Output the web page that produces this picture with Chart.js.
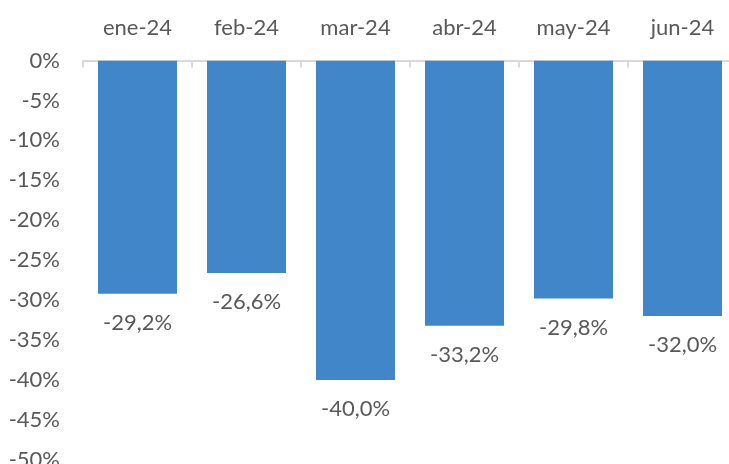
<!DOCTYPE html>
<html>
<head>
<meta charset="utf-8">
<script src="https://cdn.jsdelivr.net/npm/chart.js@4/dist/chart.umd.min.js"></script>
<style>
    html, body { margin: 0; padding: 0; background: #fff; overflow: hidden; }
    #wrap { position: absolute; left: 0; top: 0; width: 745px; height: 496px; }
</style>
</head>
<body>
<div id="wrap"><canvas id="chart"></canvas></div>
<script>
// Datos del gráfico
const meses = ['ene-24', 'feb-24', 'mar-24', 'abr-24', 'may-24', 'jun-24'];
const variaciones = [-29.2, -26.6, -40.0, -33.2, -29.8, -32.0];
const ejeMin = -50;
const ejeMax = 0;
const ejePaso = 5;

const TEXTO = '#595959';
const FUENTE = 'Lato, "Open Sans", sans-serif';

// Etiquetas de datos bajo cada barra
const etiquetasBarras = {
    id: 'etiquetasBarras',
    afterDatasetsDraw(chart) {
        const ctx = chart.ctx;
        const meta = chart.getDatasetMeta(0);
        ctx.save();
        ctx.fillStyle = TEXTO;
        ctx.font = '22px ' + FUENTE;
        ctx.textAlign = 'center';
        ctx.textBaseline = 'middle';
        meta.data.forEach((bar, i) => {
            const txt = variaciones[i].toFixed(1).replace('.', ',') + '%';
            ctx.fillText(txt, bar.x, bar.y + 29);
        });
        ctx.restore();
    }
};

// Marcas del eje entre categorías (hacia dentro)
const marcasEje = {
    id: 'marcasEje',
    afterDraw(chart) {
        const x = chart.scales.x;
        const ctx = chart.ctx;
        ctx.save();
        ctx.strokeStyle = '#d9d9d9';
        ctx.lineWidth = 2;
        for (let i = 0; i <= meses.length; i++) {
            const px = Math.round(x.getPixelForValue(i - 0.5));
            ctx.beginPath();
            ctx.moveTo(px, x.bottom);
            ctx.lineTo(px, x.bottom + 7);
            ctx.stroke();
        }
        ctx.restore();
    }
};

new Chart(document.getElementById('chart'), {
    type: 'bar',
    data: {
        labels: meses,
        datasets: [{
            data: variaciones,
            backgroundColor: '#4186c8',
            borderWidth: 0,
            categoryPercentage: 1,
            barPercentage: 0.725
        }]
    },
    options: {
        responsive: true,
        maintainAspectRatio: false,
        animation: false,
        layout: { padding: { left: 0, top: 0, right: 8, bottom: 22.5 } },
        plugins: {
            legend: { display: false },
            tooltip: { enabled: false }
        },
        scales: {
            x: {
                position: 'top',
                offset: true,
                grid: { display: false, drawTicks: false },
                border: { display: true, color: '#d9d9d9', width: 2 },
                ticks: {
                    color: TEXTO,
                    padding: 19,
                    maxRotation: 0,
                    font: { family: FUENTE, size: 22, lineHeight: 1.2 }
                },
                afterFit(scale) { scale.height = 60.5; }
            },
            y: {
                min: ejeMin,
                max: ejeMax,
                grid: { display: false, drawTicks: false },
                border: { display: false },
                ticks: {
                    stepSize: ejePaso,
                    color: TEXTO,
                    padding: 23,
                    font: { family: FUENTE, size: 22 },
                    callback: v => v + '%'
                },
                afterFit(scale) { scale.width = 83; }
            }
        }
    },
    plugins: [etiquetasBarras, marcasEje]
});
</script>
</body>
</html>
